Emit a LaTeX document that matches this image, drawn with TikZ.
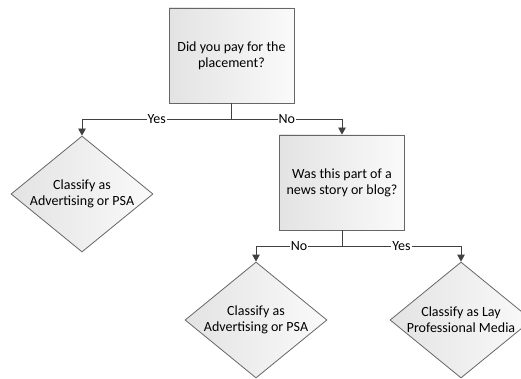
\documentclass[tikz,border=0pt]{standalone}
\usepackage{fontspec}
\setmainfont{Carlito}
\usetikzlibrary{arrows.meta, shapes.geometric}

\begin{document}
\begin{tikzpicture}[x=1pt, y=-1pt,
		txt/.style={font=\fontsize{14}{16}\selectfont},
		question/.style={txt, draw=black!60, line width=.8pt, left color=black!11, right color=black!2, minimum width=125pt, minimum height=95pt, align=center, inner sep=2pt},
		verdict/.style={diamond, draw=black!60, line width=.8pt, left color=black!11, right color=black!2, minimum width=142pt, minimum height=116pt, inner sep=0pt, label={[txt, align=center]center:#1}},
		flow/.style={draw=black!75, line width=.8pt},
		tip/.style={flow, -{Triangle[length=7pt, width=7.5pt]}},
		answer/.style={txt, fill=white, inner sep=1pt}]
		\useasboundingbox (0, 0) rectangle (521, 379);
		\clip (0, 0) rectangle (521, 379);
		% questions
		\node[question](paid) at (231.5, 55.5){Did you pay for the\\placement?};
		\node[question](news) at (342, 182.5){Was this part of a\\news story or blog?};
		% outcomes
		\node[verdict={Classify as\\Advertising or PSA}](adv1) at (82, 194){};
		\node[verdict={Classify as\\Advertising or PSA}](adv2) at (256, 320){};
		\node[verdict={Classify as Lay\\Professional Media}](lay) at (461, 320){};
		% branches
		\coordinate(fork1) at (231.5, 119);
		\coordinate(fork2) at (342, 246);
		\draw[flow](paid.south)--(fork1);
		\draw[tip](fork1)-|node[answer, pos=.25]{Yes}(adv1.north);
		\draw[tip](fork1)-|node[answer, pos=.25]{No}(news.north);
		\draw[flow](news.south)--(fork2);
		\draw[tip](fork2)-|node[answer, pos=.25]{No}(adv2.north);
		\draw[tip](fork2)-|node[answer, pos=.25]{Yes}(lay.north);
	\end{tikzpicture}
\end{document}
